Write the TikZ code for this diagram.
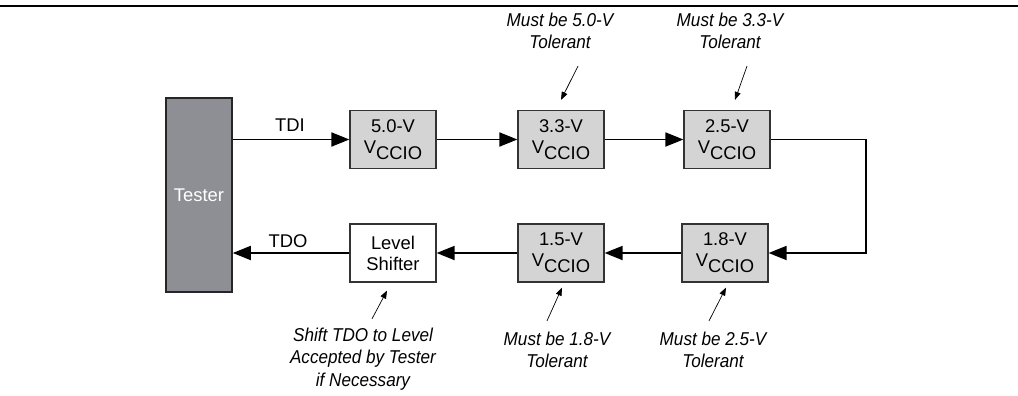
\documentclass[tikz,border=0pt]{standalone}
\usepackage{fontspec}
\setmainfont{Liberation Sans}
\newfontfamily\notefont[FakeStretch=0.92]{Liberation Sans}
\usetikzlibrary{arrows.meta}
\definecolor{boxgray}{RGB}{212,212,212}
\definecolor{testergray}{RGB}{142,143,148}
\newcommand{\vccio}{V\raisebox{-3pt}{CCIO}}
\begin{document}
\begin{tikzpicture}[x=0.5pt,y=-0.5pt,
    vbox/.style={draw=black!80,line width=0.6pt,fill=boxgray,minimum width=43pt,minimum height=29pt,inner sep=0pt,align=center,font=\fontsize{9.2}{10.5}\selectfont},
    lbl/.style={font=\fontsize{9.2}{10.5}\selectfont},
    note/.style={align=center,font=\notefont\fontsize{9.3}{11.2}\selectfont\itshape},
    arr/.style={-{Triangle[length=9pt,width=7pt]},line width=0.9pt},
    notearr/.style={-{Triangle[length=4pt,width=3pt]},line width=0.35pt}
]
\useasboundingbox (0,0) rectangle (1018,396);
\draw[line width=1.4pt] (0,6) -- (1018,6);
\node[draw=black!85,line width=0.8pt,fill=testergray,minimum width=33pt,minimum height=97pt,inner sep=0pt,text=white,lbl] (tester) at (199,195) {Tester};
\node[vbox] (v50) at (393,139.5) {5.0-V\\\vccio};
\node[vbox] (v33) at (561,139.5) {3.3-V\\\vccio};
\node[vbox] (v25) at (727,139.5) {2.5-V\\\vccio};
\node[vbox] (v18) at (725,253) {1.8-V\\\vccio};
\node[vbox] (v15) at (561,253) {1.5-V\\\vccio};
\node[vbox,fill=white] (shifter) at (393,253) {Level\\Shifter};
\coordinate (turn) at (866,196);
\node[lbl] (tdi) at (290,125) {TDI};
\node[lbl] (tdo) at (288,241) {TDO};
% tester chain
\draw[arr] (tester.east |- v50.west) -- (v50.west);
\draw[arr] (v50) -- (v33);
\draw[arr] (v33) -- (v25);
\draw[arr] (v25.east) -| (turn) |- (v18.east);
\draw[arr] (v18) -- (v15);
\draw[arr] (v15) -- (shifter);
\draw[arr] (shifter.west) -- (tester.east |- shifter.west);
% notes
\node[note] (n50) at (560,31) {Must be 5.0-V\\Tolerant};
\node[note] (n33) at (730,31) {Must be 3.3-V\\Tolerant};
\node[note] (n25) at (713,350) {Must be 2.5-V\\Tolerant};
\node[note] (n18) at (557,350) {Must be 1.8-V\\Tolerant};
\node[note] (nshift) at (363,359) {Shift TDO to Level\\Accepted by Tester\\if Necessary};
\draw[notearr] ([xshift=9pt,yshift=-5pt]n50.south) -- ([yshift=5pt]v33.north);
\draw[notearr] ([xshift=8.5pt,yshift=-5pt]n33.south) -- ([xshift=4pt,yshift=5pt]v25.north);
\draw[notearr] ([xshift=-2pt,yshift=2pt]n25.north) -- ([xshift=0.5pt,yshift=-2.5pt]v18.south);
\draw[notearr] ([xshift=-5pt,yshift=2pt]n18.north) -- ([xshift=0.5pt,yshift=-2.5pt]v15.south);
\draw[notearr] ([xshift=4.5pt,yshift=1pt]nshift.north) -- ([xshift=-3pt,yshift=-4pt]shifter.south);
\end{tikzpicture}
\end{document}
